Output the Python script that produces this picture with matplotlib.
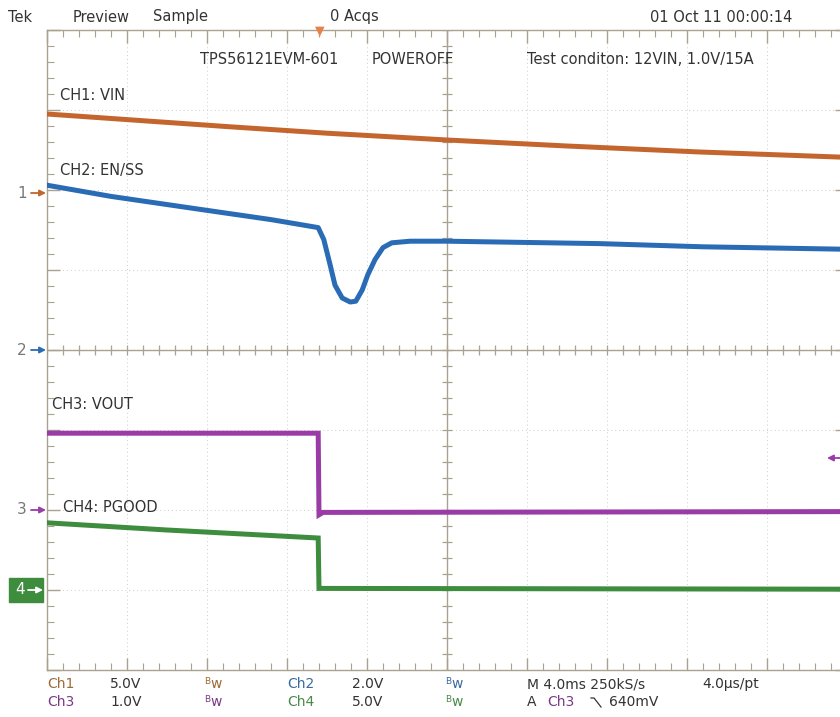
import numpy as np
import matplotlib
matplotlib.use("Agg")
import matplotlib.pyplot as plt
from matplotlib.lines import Line2D
from matplotlib.patches import FancyArrowPatch

# screen is 10 x 8 divisions, x in div from left edge, y in div from centre
ch1_x = [0.0, 1.0, 2.29, 3.5, 5.0, 6.5, 8.16, 9.95]
ch1_y = [2.95, 2.88, 2.79, 2.71, 2.625, 2.55, 2.475, 2.41]

ch2_x = [0.0, 0.8, 1.9, 2.8, 3.39, 3.46, 3.54, 3.6, 3.69, 3.79, 3.86, 3.94, 4.01, 4.1, 4.2, 4.31, 4.54, 5.0, 6.9, 8.2, 9.95]
ch2_y = [2.06, 1.92, 1.76, 1.63, 1.53, 1.38, 1.06, 0.81, 0.65, 0.6, 0.61, 0.75, 0.94, 1.13, 1.28, 1.34, 1.36, 1.36, 1.33, 1.29, 1.26]

ch3_x = [0.0, 3.39, 3.40, 3.45, 9.95]
ch3_y = [-1.04, -1.04, -2.06, -2.03, -2.02]

ch4_x = [0.0, 1.5, 3.39, 3.40, 9.95]
ch4_y = [-2.16, -2.25, -2.35, -2.98, -2.99]

colors = {"ch1": "#c4652e", "ch2": "#2a6bb5", "ch3": "#9a3ca6", "ch4": "#3e8c3e"}
frame = "#a8a28e"
txt = "#333333"

W, H = 840, 717
fig = plt.figure(figsize=(W / 100, H / 100), dpi=100)
fig.patch.set_facecolor("white")

def px(x, y):
    return x / W, 1 - y / H

ax = fig.add_axes([47 / W, 47 / H, 800 / W, 640 / H])
ax.set_xlim(0, 10)
ax.set_ylim(-4, 4)
for s in ax.spines.values():
    s.set_color(frame)
    s.set_linewidth(1.0)
ax.set_xticks(np.arange(0, 11, 1))
ax.set_yticks(np.arange(-4, 5, 1))
ax.set_xticks(np.arange(0, 10.01, 0.2), minor=True)
ax.set_yticks(np.arange(-4, 4.01, 0.2), minor=True)
ax.tick_params(which="both", direction="in", top=True, right=True, color=frame,
               labelbottom=False, labelleft=False)
ax.tick_params(which="major", length=9, width=1)
ax.tick_params(which="minor", length=5, width=0.8)

# dotted graticule
for i in range(1, 10):
    ax.axvline(i, color="#cccccc", lw=0.7, ls=(0, (1, 3)), zorder=0)
for j in range(-3, 4):
    ax.axhline(j, color="#cccccc", lw=0.7, ls=(0, (1, 3)), zorder=0)

# centre cross with ticks
ax.axvline(5, color=frame, lw=1, zorder=1)
ax.axhline(0, color=frame, lw=1, zorder=1)
tx = np.arange(0, 10.01, 0.2)
ty = np.arange(-4, 4.01, 0.2)
ax.plot(tx, np.zeros_like(tx), ls="none", marker="|", ms=7, color=frame, mew=0.9, zorder=1)
ax.plot(np.full_like(ty, 5), ty, ls="none", marker="_", ms=7, color=frame, mew=0.9, zorder=1)

# traces
lw = 3.6
ax.plot(ch1_x, ch1_y, color=colors["ch1"], lw=lw, solid_joinstyle="round", zorder=3)
ax.plot(ch2_x, ch2_y, color=colors["ch2"], lw=lw, solid_joinstyle="round", zorder=3)
ax.plot(ch3_x, ch3_y, color=colors["ch3"], lw=lw, solid_joinstyle="miter", zorder=3)
ax.plot(ch4_x, ch4_y, color=colors["ch4"], lw=lw, solid_joinstyle="miter", zorder=3)

# on-screen labels
fs = 10.5
ax.text(1.91, 3.63, "TPS56121EVM-601", fontsize=fs, color=txt, va="center")
ax.text(4.06, 3.63, "POWEROFF", fontsize=fs, color=txt, va="center")
ax.text(6.0, 3.63, "Test conditon: 12VIN, 1.0V/15A", fontsize=fs, color=txt, va="center")
ax.text(0.16, 3.18, "CH1: VIN", fontsize=fs, color=txt, va="center")
ax.text(0.16, 2.24, "CH2: EN/SS", fontsize=fs, color=txt, va="center")
ax.text(0.06, -0.68, "CH3: VOUT", fontsize=fs, color=txt, va="center")
ax.text(0.2, -1.97, "CH4: PGOOD", fontsize=fs, color=txt, va="center")

# header
hdr = 10.5
fig.text(*px(8, 17), "Tek", fontsize=hdr, color=txt, va="center")
fig.text(*px(73, 17), "Preview", fontsize=hdr, color=txt, va="center")
fig.text(*px(153, 17), "Sample", fontsize=hdr, color=txt, va="center")
fig.text(*px(330, 17), "0 Acqs", fontsize=hdr, color=txt, va="center")
fig.text(*px(650, 17), "01 Oct 11 00:00:14", fontsize=hdr, color=txt, va="center")
# trigger position marker
fig.text(*px(320, 31), "\u25BC", fontsize=9, color="#e8804a", ha="center", va="center")

def arrow(x0, x1, y, col, z=5):
    fig.add_artist(FancyArrowPatch(px(x0, y), px(x1, y), transform=fig.transFigure,
                                   arrowstyle="-|>", color=col, lw=1.3, mutation_scale=9,
                                   shrinkA=0, shrinkB=0, zorder=z))

# channel ground markers on the left
def marker(num, y, col):
    fig.text(*px(22, y), num, fontsize=11, color="#777777", ha="center", va="center")
    arrow(31, 46, y, col)

marker("1", 193, colors["ch1"])
marker("2", 350, colors["ch2"])
marker("3", 510, colors["ch3"])
fig.patches.append(plt.Rectangle(px(9, 602), 34 / W, 24 / H, transform=fig.transFigure,
                                 color=colors["ch4"], zorder=5))
fig.text(*px(20, 590), "4", fontsize=11, color="white", ha="center", va="center", zorder=6)
arrow(28, 43, 590, "white", z=7)

# trigger level arrow at right
arrow(842, 827, 458, colors["ch3"])

# footer
ft = 10
r1, r2 = 684, 702
fig.text(*px(47, r1), "Ch1", fontsize=ft, color="#9c6a34", va="center")
fig.text(*px(110, r1), "5.0V", fontsize=ft, color=txt, va="center")
fig.text(*px(47, r2), "Ch3", fontsize=ft, color="#7a3a86", va="center")
fig.text(*px(110, r2), "1.0V", fontsize=ft, color=txt, va="center")
fig.text(*px(287, r1), "Ch2", fontsize=ft, color="#3a6aa0", va="center")
fig.text(*px(352, r1), "2.0V", fontsize=ft, color=txt, va="center")
fig.text(*px(287, r2), "Ch4", fontsize=ft, color="#4a8a4a", va="center")
fig.text(*px(352, r2), "5.0V", fontsize=ft, color=txt, va="center")

def bw(x, y, col):
    fig.text(*px(x, y - 2), "B", fontsize=6.5, color=col, va="center")
    fig.text(*px(x + 6, y), "w", fontsize=ft, color=col, va="center")

bw(204, r1, "#9c6a34")
bw(204, r2, "#7a3a86")
bw(445, r1, "#3a6aa0")
bw(445, r2, "#4a8a4a")

fig.text(*px(527, r1), "M 4.0ms 250kS/s", fontsize=ft, color=txt, va="center")
fig.text(*px(702, r1), "4.0\u03bcs/pt", fontsize=ft, color=txt, va="center")
fig.text(*px(527, r2), "A", fontsize=ft, color=txt, va="center")
fig.text(*px(547, r2), "Ch3", fontsize=ft, color="#7a3a86", va="center")
fig.add_artist(Line2D([591 / W, 594 / W, 601 / W], [1 - 698 / H, 1 - 698 / H, 1 - 707 / H],
                      color=txt, lw=0.9))
fig.text(*px(609, r2), "640mV", fontsize=ft, color=txt, va="center")

fig.savefig("out.png", dpi=100, facecolor="white")
